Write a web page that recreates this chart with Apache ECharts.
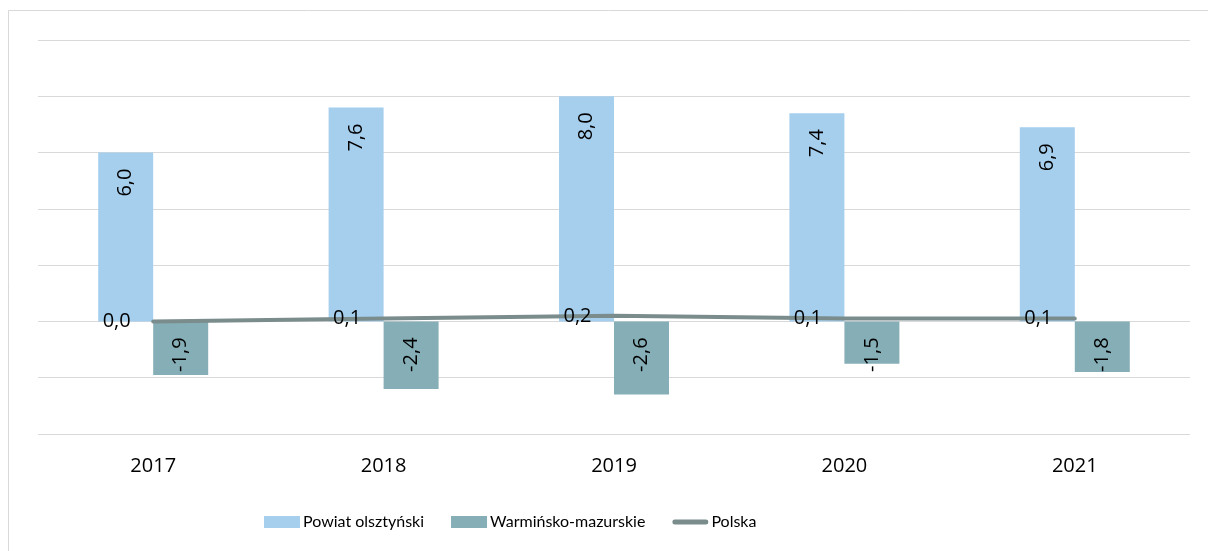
<!DOCTYPE html>
<html>
<head>
<meta charset="utf-8">
<style>
    html, body { margin: 0; padding: 0; background: #fff; }
    #chart { width: 1208px; height: 551px; }
</style>
<script src="https://cdn.jsdelivr.net/npm/echarts@6/dist/echarts.min.js"></script>
</head>
<body>
<div id="chart"></div>
<script>
    // dane z wykresu
    var years = ['2017', '2018', '2019', '2020', '2021'];
    var powiat = [6.0, 7.6, 8.0, 7.4, 6.9];
    var wojewodztwo = [-1.9, -2.4, -2.6, -1.5, -1.8];
    var polska = [0.0, 0.1, 0.2, 0.1, 0.1];

    var numFont = 'Open Sans';
    var legendFont = 'Lato';

    function fmt(p) {
        return p.value.toFixed(1).replace('.', ',');
    }

    var barLabel = {
        show: true,
        position: 'insideTop',
        distance: 16,
        rotate: 90,
        align: 'right',
        verticalAlign: 'middle',
        color: '#000',
        fontSize: 20,
        fontFamily: numFont,
        formatter: fmt
    };

    // ikonka linii w legendzie (gruba, zaokrąglona)
    var lineIcon = 'path://M0,0h0.01v0.01h-0.01z M36,12h0.01v0.01h-0.01z ' +
        'M2.5,3.5H33.5A2.5,2.5 0 0 1 33.5,8.5H2.5A2.5,2.5 0 0 1 2.5,3.5Z';

    var myChart = echarts.init(document.getElementById('chart'));
    myChart.setOption({
        animation: false,
        textStyle: { fontFamily: numFont },
        graphic: [{
            type: 'rect',
            shape: { x: 8.5, y: 10.5, width: 1300, height: 700 },
            style: { fill: 'none', stroke: '#d9d9d9', lineWidth: 1 },
            silent: true
        }],
        legend: {
            top: 509,
            left: 259,
            itemWidth: 36,
            itemHeight: 12,
            itemGap: 27,
            textStyle: { fontSize: 16, color: '#000', fontFamily: legendFont, padding: [0, 0, 0, -2] },
            data: [
                { name: 'Powiat olsztyński', icon: 'rect' },
                { name: 'Warmińsko-mazurskie', icon: 'rect' },
                { name: 'Polska', icon: lineIcon, itemStyle: { color: '#7b8c8c' } }
            ]
        },
        grid: {
            left: 38,
            right: 18,
            top: 40,
            bottom: 117
        },
        xAxis: {
            type: 'category',
            data: years,
            axisLine: { show: false, onZero: false },
            axisTick: { show: false },
            axisLabel: { color: '#000', fontSize: 20, margin: 22, fontFamily: numFont }
        },
        yAxis: {
            type: 'value',
            min: -4,
            max: 10,
            interval: 2,
            axisLabel: { show: false },
            axisLine: { show: false },
            axisTick: { show: false },
            splitLine: { lineStyle: { color: '#d9d9d9', width: 1 } }
        },
        series: [
            {
                name: 'Powiat olsztyński',
                type: 'bar',
                data: powiat,
                barWidth: 55,
                barGap: '0%',
                itemStyle: { color: '#a6cfee' },
                label: barLabel
            },
            {
                name: 'Warmińsko-mazurskie',
                type: 'bar',
                data: wojewodztwo,
                barWidth: 55,
                itemStyle: { color: '#85aeb7' },
                label: barLabel
            },
            {
                name: 'Polska',
                type: 'line',
                data: polska,
                symbol: 'circle',
                symbolSize: 1,
                showSymbol: true,
                itemStyle: { color: '#7b8c8c' },
                lineStyle: { color: '#7b8c8c', width: 4, cap: 'round' },
                label: {
                    show: true,
                    position: 'left',
                    distance: 22,
                    color: '#000',
                    fontSize: 20,
                    fontFamily: numFont,
                    formatter: fmt
                },
                z: 5
            }
        ]
    });
</script>
</body>
</html>
